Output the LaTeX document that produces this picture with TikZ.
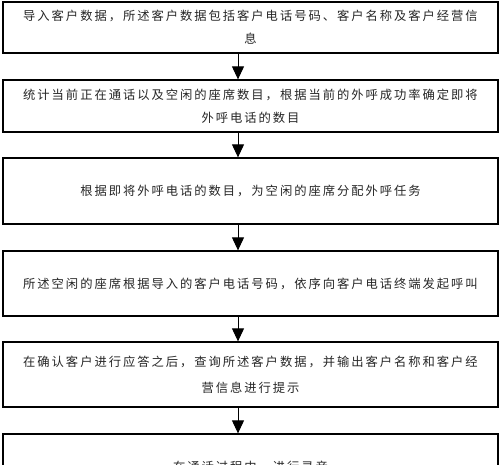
\documentclass[tikz,border=0pt]{standalone}
\usepackage{fontspec}
\newfontfamily\cjk[LetterSpace=16]{Noto Sans CJK SC}
\usetikzlibrary{arrows.meta}
\tikzset{
  x=1pt,y=1pt,
  box/.style={draw=black, line width=1.3pt, minimum width=495pt, inner sep=0pt,
    align=center, font=\cjk\fontsize{12.3}{23}\selectfont, text=black!85},
  arr/.style={line width=1pt, -{Triangle[width=12pt,length=13pt]}}
}
\begin{document}
\begin{tikzpicture}
\useasboundingbox (0,0) rectangle (500,-464);
\clip (0,0) rectangle (500,-464);
\fill[white] (0,0) rectangle (500,-464);
\coordinate (ax) at (238,0);
\node[box, minimum height=51pt] (b1) at (250.5,-27.5) {导入客户数据，所述客户数据包括客户电话号码、客户名称及客户经营信\\息};
\node[box, minimum height=52pt] (b2) at (250.5,-106) {统计当前正在通话以及空闲的座席数目，根据当前的外呼成功率确定即将\\外呼电话的数目};
\node[box, minimum height=66pt] (b3) at (250.5,-191) {根据即将外呼电话的数目，为空闲的座席分配外呼任务};
\node[box, minimum height=65pt] (b4) at (250.5,-283.5) {所述空闲的座席根据导入的客户电话号码，依序向客户电话终端发起呼叫};
\node[box, minimum height=65pt] (b5) at (250.5,-374.5) {在确认客户进行应答之后，查询所述客户数据，并输出客户名称和客户经\\[3pt]营信息进行提示};
\node[box, minimum height=66pt] (b6) at (250.5,-467) {在通话过程中，进行录音};
\draw[arr] (b1.south -| ax) -- (b2.north -| ax);
\draw[arr] (b2.south -| ax) -- (b3.north -| ax);
\draw[arr] (b3.south -| ax) -- (b4.north -| ax);
\draw[arr] (b4.south -| ax) -- (b5.north -| ax);
\draw[arr] (b5.south -| ax) -- (b6.north -| ax);
\end{tikzpicture}
\end{document}
